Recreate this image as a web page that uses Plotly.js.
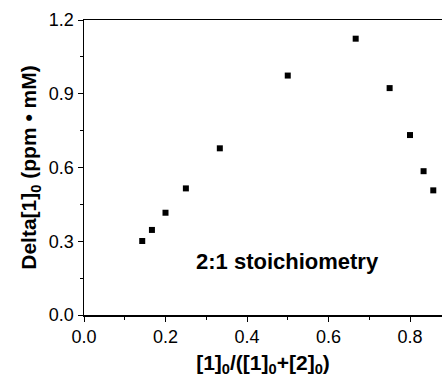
<!DOCTYPE html>
<html>
<head>
<meta charset="utf-8">
<script src="https://cdn.plot.ly/plotly-3.0.1.min.js"></script>
<style>html,body{margin:0;padding:0;background:#fff;}#chart{width:442px;height:377px;}</style>
</head>
<body>
<div id="chart"></div>
<script>
const xValues = [0.1429, 0.1667, 0.2, 0.25, 0.3333, 0.5, 0.6667, 0.75, 0.8, 0.8333, 0.8571];
const yValues = [0.301, 0.346, 0.416, 0.515, 0.678, 0.974, 1.124, 0.923, 0.732, 0.585, 0.507];
const xTicks = [0.0, 0.2, 0.4, 0.6, 0.8];
const xTickLabels = ["0.0", "0.2", "0.4", "0.6", "0.8"];
const yTicks = [0.0, 0.3, 0.6, 0.9, 1.2];
const yTickLabels = ["0.0", "0.3", "0.6", "0.9", "1.2"];
const annotationText = "2:1 stoichiometry";

const font = "Liberation Sans, Arial, sans-serif";

const trace = {
  x: xValues, y: yValues, type: "scatter", mode: "markers",
  marker: {symbol: "square", size: 6, color: "#000"},
  hoverinfo: "none"
};

const layout = {
  width: 442, height: 377,
  margin: {l: 84, r: 0, t: 20, b: 62},
  paper_bgcolor: "#fff", plot_bgcolor: "#fff",
  showlegend: false,
  font: {family: font, color: "#000"},
  xaxis: {
    range: [0, 0.8785],
    tickvals: xTicks, ticktext: xTickLabels,
    ticks: "outside", ticklen: 5, tickwidth: 1, tickcolor: "#000",
    minor: {dtick: 0.1, tick0: 0, ticks: "outside", ticklen: 3, tickcolor: "#000"},
    showline: true, linecolor: "#000", linewidth: 1.5, mirror: true,
    showgrid: false, zeroline: false,
    tickfont: {size: 18, family: font},
    title: {text: "<b>[1]<sub>0</sub>/([1]<sub>0</sub>+[2]<sub>0</sub>)</b>", font: {size: 21, family: font}, standoff: 11}
  },
  yaxis: {
    range: [0, 1.2],
    tickvals: yTicks, ticktext: yTickLabels,
    ticks: "outside", ticklen: 5, tickwidth: 1, tickcolor: "#000",
    minor: {dtick: 0.15, tick0: 0, ticks: "outside", ticklen: 3, tickcolor: "#000"},
    showline: true, linecolor: "#000", linewidth: 1.5, mirror: false,
    showgrid: false, zeroline: false,
    tickfont: {size: 18, family: font},
    title: {text: "<b>Delta[1]<sub>0</sub> (ppm • mM)</b>", font: {size: 21, family: font}, standoff: 6}
  },
  annotations: [{
    x: 0.5, y: 0.217, xref: "x", yref: "y", text: "<b>" + annotationText + "</b>",
    showarrow: false, font: {size: 22, family: font, color: "#000"}
  }]
};

Plotly.newPlot("chart", [trace], layout, {staticPlot: true, displayModeBar: false});
</script>
</body>
</html>
